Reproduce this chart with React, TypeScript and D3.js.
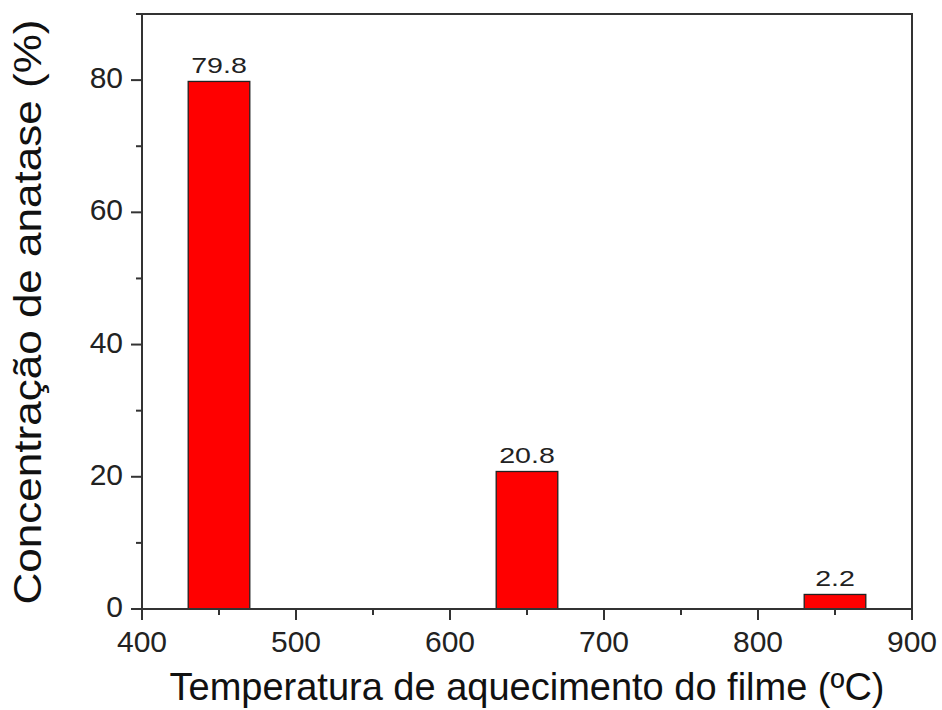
import React from "react";
import * as d3 from "d3";

const temperatures = [450, 650, 850];
const concentrations = [79.8, 20.8, 2.2];
const barLabels = ["79.8", "20.8", "2.2"];
const xTicks = [400, 500, 600, 700, 800, 900];
const xMinorTicks = [450, 550, 650, 750, 850];
const yTicks = [0, 20, 40, 60, 80];
const yMinorTicks = [10, 30, 50, 70, 90];
const barWidthUnits = 40;

const W = 942, H = 710;
const left = 142, right = 912, top = 14, bottom = 609;
const axisColor = "#333";
const font = "Liberation Sans, Arial, sans-serif";

export default function App() {
  const x = d3.scaleLinear().domain([400, 900]).range([left, right]);
  const y = d3.scaleLinear().domain([0, 90]).range([bottom, top]);
  return (
    <svg width={W} height={H} style={{ position: "absolute", left: 0, top: 0, background: "#fff" }} fontFamily={font}>
      {temperatures.map((t, i) => (
        <g key={t}>
          <rect x={x(t - barWidthUnits / 2)} y={y(concentrations[i])}
            width={x(t + barWidthUnits / 2) - x(t - barWidthUnits / 2)}
            height={y(0) - y(concentrations[i])}
            fill="#ff0000" stroke="#222" strokeWidth={1.3} />
          <text transform={`translate(${x(t)}, ${y(concentrations[i]) - 8}) scale(1.3, 1)`} textAnchor="middle" fontSize={22} fill="#222">{barLabels[i]}</text>
        </g>
      ))}
      <rect x={left} y={top} width={right - left} height={bottom - top} fill="none" stroke={axisColor} strokeWidth={2} />
      {xTicks.map(t => (
        <g key={t}>
          <line x1={x(t)} x2={x(t)} y1={bottom} y2={bottom + 11} stroke={axisColor} strokeWidth={2} />
          <text x={x(t)} y={652} textAnchor="middle" fontSize={30} fill="#222">{t}</text>
        </g>
      ))}
      {xMinorTicks.map(t => (
        <line key={t} x1={x(t)} x2={x(t)} y1={bottom} y2={bottom + 6} stroke={axisColor} strokeWidth={2} />
      ))}
      {yTicks.map(t => (
        <g key={t}>
          <line x1={left} x2={left - 11} y1={y(t)} y2={y(t)} stroke={axisColor} strokeWidth={2} />
          <text x={left - 19} y={y(t) + 8} textAnchor="end" fontSize={30} fill="#222">{t}</text>
        </g>
      ))}
      {yMinorTicks.map(t => (
        <line key={t} x1={left} x2={left - 6} y1={y(t)} y2={y(t)} stroke={axisColor} strokeWidth={2} />
      ))}
      <text x={527} y={700} textAnchor="middle" fontSize={39} textLength={715} lengthAdjust="spacingAndGlyphs" fill="#111">Temperatura de aquecimento do filme (ºC)</text>
      <text transform={`translate(41, 312) rotate(-90)`} textAnchor="middle" fontSize={38} textLength={585} lengthAdjust="spacingAndGlyphs" fill="#111">Concentração de anatase (%)</text>
    </svg>
  );
}
